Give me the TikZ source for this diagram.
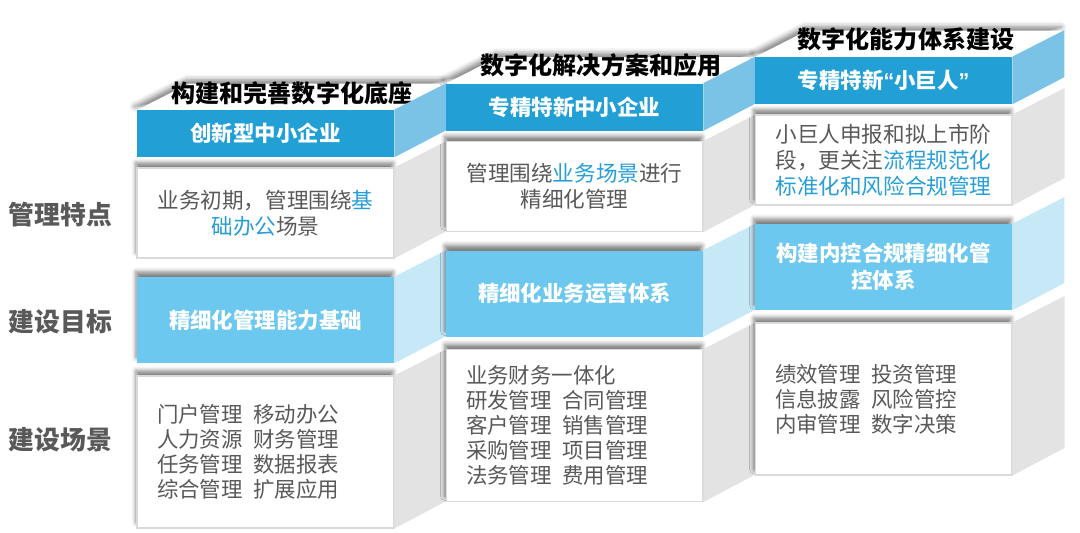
\documentclass[tikz,border=0pt]{standalone}
\usepackage{fontspec}
\setmainfont{Noto Sans CJK SC}
\newfontfamily\latinfont{Liberation Sans}
\usetikzlibrary{shadows.blur}

\definecolor{hdrblue}{RGB}{34,160,214}
\definecolor{hdrside}{RGB}{123,195,230}
\definecolor{goalblue}{RGB}{108,200,238}
\definecolor{goalside}{RGB}{199,233,247}
\definecolor{greyside}{RGB}{227,227,227}
\definecolor{boxline}{RGB}{218,218,218}
\definecolor{txtgray}{RGB}{89,89,89}
\definecolor{hotblue}{RGB}{38,158,216}

\newcommand{\hot}[1]{\textcolor{hotblue}{#1}}

\begin{document}
\begin{tikzpicture}[x=0.02cm, y=-0.02cm,
  boxshadow/.style={blur shadow={shadow xshift=-0.6pt, shadow yshift=3pt, shadow blur radius=2.5pt, shadow opacity=50}},
  topshadow/.style={blur shadow={shadow xshift=-1.5pt, shadow yshift=2pt, shadow blur radius=3pt, shadow opacity=50}},
  hdr/.style={fill=hdrblue, text=white, font=\bfseries\fontsize{12.2}{14.5}\selectfont, minimum width=5.14cm, minimum height=0.94cm, inner sep=0pt},
  note/.style={fill=white, draw=boxline, line width=0.6pt, text=txtgray, font=\fontsize{12.3}{14.8}\selectfont, align=center, minimum width=5.14cm, minimum height=1.8cm, inner sep=0pt, boxshadow},
  goal/.style={fill=goalblue, text=white, font=\bfseries\fontsize{12.2}{15.5}\selectfont, align=center, minimum width=5.14cm, minimum height=1.72cm, inner sep=0pt, boxshadow},
  scene/.style={fill=white, draw=boxline, line width=0.6pt, text=txtgray, font=\fontsize{12.2}{14.3}\selectfont, align=left, text width=4.34cm, inner xsep=0.4cm, inner ysep=0pt, minimum width=5.14cm, minimum height=3.04cm, boxshadow},
  title/.style={font=\bfseries\fontsize{13.7}{16}\selectfont, text=black},
  rowlabel/.style={font=\bfseries\fontsize{14.7}{16}\selectfont, text=txtgray}]
\useasboundingbox (0,0) rectangle (1080,532);

% top faces
\fill[white, topshadow] (137,110) -- (394,110) -- (446,83.5) -- (189,83.5) -- cycle;
\fill[white, topshadow] (446,83.5) -- (703,83.5) -- (755,57) -- (498,57) -- cycle;
\fill[white, topshadow] (755,57) -- (1012,57) -- (1064,30.5) -- (807,30.5) -- cycle;
\node[title] (t1) at (292,93) {构建和完善数字化底座};
\node[title] (t2) at (601,65) {数字化解决方案和应用};
\node[title] (t3) at (906,39) {数字化能力体系建设};

% row labels
\node[rowlabel] (l1) at (60.5,215) {管理特点};
\node[rowlabel] (l2) at (60.5,322) {建设目标};
\node[rowlabel] (l3) at (60.5,440) {建设场景};

% column 1
\node[hdr] (h1) at (265.5,133.5) {创新型中小企业};
\node[note] (n1) at (265.5,213) {业务初期，管理围绕\hot{基}\\\hot{础办公}场景};
\node[goal] (g1) at (265.5,320) {精细化管理能力基础};
\node[scene] (s1) at (265.5,452) {门户管理\enspace 移动办公\\人力资源\enspace 财务管理\\任务管理\enspace 数据报表\\综合管理\enspace 扩展应用};
\fill[hdrside] (h1.north east) -- ++(52,-26.5) -- ++(0,47) -- (h1.south east) -- cycle;
\fill[greyside] (n1.north east) -- ++(52,-26.5) -- ++(0,90) -- (n1.south east) -- cycle;
\fill[goalside] (g1.north east) -- ++(52,-26.5) -- ++(0,86) -- (g1.south east) -- cycle;
\fill[greyside] (s1.north east) -- ++(52,-26.5) -- ++(0,152) -- (s1.south east) -- cycle;

% column 2
\node[hdr] (h2) at (574.5,107) {专精特新中小企业};
\node[note] (n2) at (574.5,186.5) {管理围绕\hot{业务场景}进行\\精细化管理};
\node[goal] (g2) at (574.5,293.5) {精细化业务运营体系};
\node[scene] (s2) at (574.5,425.5) {业务财务一体化\\研发管理\enspace 合同管理\\客户管理\enspace 销售管理\\采购管理\enspace 项目管理\\法务管理\enspace 费用管理};
\fill[hdrside] (h2.north east) -- ++(52,-26.5) -- ++(0,47) -- (h2.south east) -- cycle;
\fill[greyside] (n2.north east) -- ++(52,-26.5) -- ++(0,90) -- (n2.south east) -- cycle;
\fill[goalside] (g2.north east) -- ++(52,-26.5) -- ++(0,86) -- (g2.south east) -- cycle;
\fill[greyside] (s2.north east) -- ++(52,-26.5) -- ++(0,152) -- (s2.south east) -- cycle;

% column 3
\node[hdr] (h3) at (883.5,80.5) {专精特新{\latinfont “}小巨人{\latinfont ”}};
\node[note] (n3) at (883.5,160) {小巨人申报和拟上市阶\\段，更关注\hot{流程规范化}\\\hot{标准化和风险合规管理}};
\node[goal] (g3) at (883.5,267) {构建内控合规精细化管\\控体系};
\node[scene] (s3) at (883.5,399) {绩效管理\enspace 投资管理\\信息披露\enspace 风险管控\\内审管理\enspace 数字决策};
\fill[hdrside] (h3.north east) -- ++(52,-26.5) -- ++(0,47) -- (h3.south east) -- cycle;
\fill[greyside] (n3.north east) -- ++(52,-26.5) -- ++(0,90) -- (n3.south east) -- cycle;
\fill[goalside] (g3.north east) -- ++(52,-26.5) -- ++(0,86) -- (g3.south east) -- cycle;
\fill[greyside] (s3.north east) -- ++(52,-26.5) -- ++(0,152) -- (s3.south east) -- cycle;
\end{tikzpicture}
\end{document}
